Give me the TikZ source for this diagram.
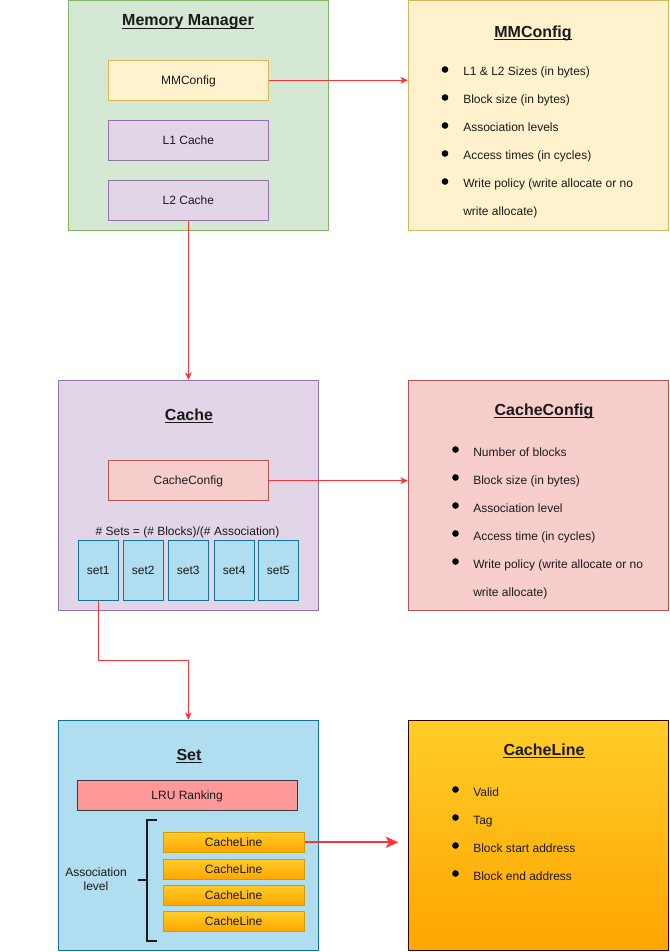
\documentclass[tikz,border=0pt]{standalone}
\usepackage{fontspec}
\setmainfont{Liberation Sans}
\usetikzlibrary{fit,arrows.meta}
\definecolor{mmfill}{HTML}{D5E8D4}\definecolor{mmdraw}{HTML}{82B366}
\definecolor{yfill}{HTML}{FFF2CC}\definecolor{ydraw}{HTML}{D6B656}
\definecolor{pfill}{HTML}{E1D5E7}\definecolor{pdraw}{HTML}{9673A6}
\definecolor{rfill}{HTML}{F8CECC}\definecolor{rdraw}{HTML}{B85450}
\definecolor{bfill}{HTML}{B1DDF0}\definecolor{bdraw}{HTML}{10739E}
\definecolor{lrufill}{HTML}{FF9999}\definecolor{lrudraw}{HTML}{36393D}
\definecolor{otop}{HTML}{FFCD28}\definecolor{obot}{HTML}{FFA500}\definecolor{odraw}{HTML}{D79B00}
\definecolor{cldraw}{HTML}{330000}
\definecolor{arrred}{HTML}{FF3333}
\definecolor{txt}{HTML}{1A1A1A}
\tikzset{
  frame/.style={draw, inner sep=0pt, line width=0.75pt},
  sz/.style 2 args={minimum width=#1*0.75pt, minimum height=#2*0.75pt},
  lbl/.style={font=\fontsize{9}{11}\selectfont, text=txt, text height=7.4pt, text depth=1pt},
  itm/.style={font=\fontsize{9}{11}\selectfont, text=txt, inner sep=0pt, anchor=base west},
  ttl/.style={font=\fontsize{12}{14}\selectfont\bfseries, text=txt, inner sep=0pt, anchor=base},
  uline/.style={line width=0.9pt, draw=txt},
  arr/.style={draw=arrred, line width=0.75pt, -{Stealth[length=5.5pt,width=5pt,inset=1.5pt]}},
  bigarr/.style={draw=arrred, line width=1.3pt, -{Stealth[length=9.5pt,width=8.5pt,inset=2.5pt]}},
  setbox/.style={frame, draw=bdraw, fill=bfill, lbl, sz={40}{60}},
  oline/.style={frame, draw=odraw, top color=otop, bottom color=obot, lbl, sz={140.7}{20.2}},
}
\newcommand\bul[2]{\fill[black] (#1,#2) circle (2.5pt);}
\begin{document}
\begin{tikzpicture}[x=0.75pt,y=-0.75pt]
\useasboundingbox (0,0) rectangle (669,952);
% ---------- Memory Manager ----------
\node[frame, draw=mmdraw, fill=mmfill, fit={(68.3,0.6) (328.3,230.3)}] (mm) {};
\node[ttl] (mmt) at (188,26) {Memory Manager};
\draw[uline] ([yshift=-1.6pt]mmt.base west) -- ([yshift=-1.6pt]mmt.base east);
\node[frame, draw=ydraw, fill=yfill, lbl, sz={160.2}{40}] (mmc) at (188.4,80.3) {MMConfig};
\node[frame, draw=pdraw, fill=pfill, lbl, sz={160.2}{40}] (l1) at (188.4,140.4) {L1 Cache};
\node[frame, draw=pdraw, fill=pfill, lbl, sz={160.2}{40}] (l2) at (188.4,200.4) {L2 Cache};
% ---------- MMConfig ----------
\node[frame, draw=ydraw, fill=yfill, fit={(408.3,0.6) (668.2,230.3)}] (mmcfg) {};
\node[ttl] (mmcfgt) at (533,37.5) {MMConfig};
\draw[uline] ([yshift=-1.6pt]mmcfgt.base west) -- ([yshift=-1.6pt]mmcfgt.base east);
\bul{445}{69.5}\node[itm] (a1) at (463,76) {L1 \& L2 Sizes (in bytes)};
\bul{445}{97.5}\node[itm] (a2) at (463,104) {Block size (in bytes)};
\bul{445}{125.5}\node[itm] (a3) at (463,132) {Association levels};
\bul{445}{153.5}\node[itm] (a4) at (463,160) {Access times (in cycles)};
\bul{445}{181.5}\node[itm] (a5) at (463,188) {Write policy (write allocate or no};
\node[itm] (a6) at (463,216) {write allocate)};
% ---------- Cache ----------
\node[frame, draw=pdraw, fill=pfill, fit={(58.3,380.3) (318.3,610.3)}] (cache) {};
\node[ttl] (cachet) at (189,420.5) {Cache};
\draw[uline] ([yshift=-1.6pt]cachet.base west) -- ([yshift=-1.6pt]cachet.base east);
\node[frame, draw=rdraw, fill=rfill, lbl, sz={160}{40}] (cc) at (188.3,480.7) {CacheConfig};
\node[itm, anchor=base] (form) at (187.5,535) {\# Sets = (\# Blocks)/(\# Association)};
\node[setbox] (s1) at (98.3,570.3) {set1};
\node[setbox] (s2) at (143.3,570.3) {set2};
\node[setbox] (s3) at (188.3,570.3) {set3};
\node[setbox] (s4) at (234.15,570.3) {set4};
\node[setbox] (s5) at (278.3,570.3) {set5};
% ---------- CacheConfig ----------
\node[frame, draw=rdraw, fill=rfill, fit={(408.3,380.3) (668.2,610.3)}] (ccfg) {};
\node[ttl] (ccfgt) at (544,415.5) {CacheConfig};
\draw[uline] ([yshift=-1.6pt]ccfgt.base west) -- ([yshift=-1.6pt]ccfgt.base east);
\bul{455.5}{449.5}\node[itm] (b1) at (473,456) {Number of blocks};
\bul{455.5}{477.5}\node[itm] (b2) at (473,484) {Block size (in bytes)};
\bul{455.5}{505.5}\node[itm] (b3) at (473,512) {Association level};
\bul{455.5}{533.5}\node[itm] (b4) at (473,540) {Access time (in cycles)};
\bul{455.5}{561.5}\node[itm] (b5) at (473,568) {Write policy (write allocate or no};
\node[itm] (b6) at (473,596) {write allocate)};
% ---------- Set ----------
\node[frame, draw=bdraw, fill=bfill, fit={(58.3,720.3) (318.3,950.3)}] (set) {};
\node[ttl] (sett) at (189,760.5) {Set};
\draw[uline] ([yshift=-1.6pt]sett.base west) -- ([yshift=-1.6pt]sett.base east);
\node[frame, draw=lrudraw, fill=lrufill, lbl, sz={220.3}{30.2}] (lru) at (187.15,795.4) {LRU Ranking};
\draw[line width=1.5pt, draw=txt] (156.7,820.3) -- (147.3,820.3) -- (147.3,940.5) -- (156.7,940.5);
\coordinate (brk) at (147.3,880);
\coordinate (brkl) at (138.3,880);
\draw[line width=1.5pt, draw=txt] (brkl) -- (brk);
\node[font=\fontsize{9}{10.5}\selectfont, text=txt, align=center, inner sep=0pt, anchor=base] (assoc) at (96,890.7) {Association\\level};
\node[oline] (cl1) at (233.65,842.3) {CacheLine};
\node[oline] (cl2) at (233.65,869.25) {CacheLine};
\node[oline] (cl3) at (233.65,895.4) {CacheLine};
\node[oline] (cl4) at (233.65,921.4) {CacheLine};
% ---------- CacheLine ----------
\node[frame, draw=cldraw, top color=otop, bottom color=obot, fit={(408.3,720.3) (668.2,950.3)}] (clb) {};
\node[ttl] (clbt) at (544,755.5) {CacheLine};
\draw[uline] ([yshift=-1.6pt]clbt.base west) -- ([yshift=-1.6pt]clbt.base east);
\bul{455.5}{789.5}\node[itm] (c1) at (473,796) {Valid};
\bul{455.5}{817.5}\node[itm] (c2) at (473,824) {Tag};
\bul{455.5}{845.5}\node[itm] (c3) at (473,852) {Block start address};
\bul{455.5}{873.5}\node[itm] (c4) at (473,880) {Block end address};
% ---------- connectors ----------
\draw[arr] (mmc.east) -- (mmcfg.west |- mmc.east);
\draw[arr] (l2.south) -- (cache.north -| l2.south);
\draw[arr] (cc.east) -- (ccfg.west |- cc.east);
\coordinate (bend) at (98.3,660.5);
\draw[arr] (s1.south) -- (s1.south |- bend) -- (set.north |- bend) -- (set.north);
\coordinate (clend) at (398.3,842.3);
\draw[bigarr] (cl1.east) -- (clend);
\end{tikzpicture}
\end{document}
